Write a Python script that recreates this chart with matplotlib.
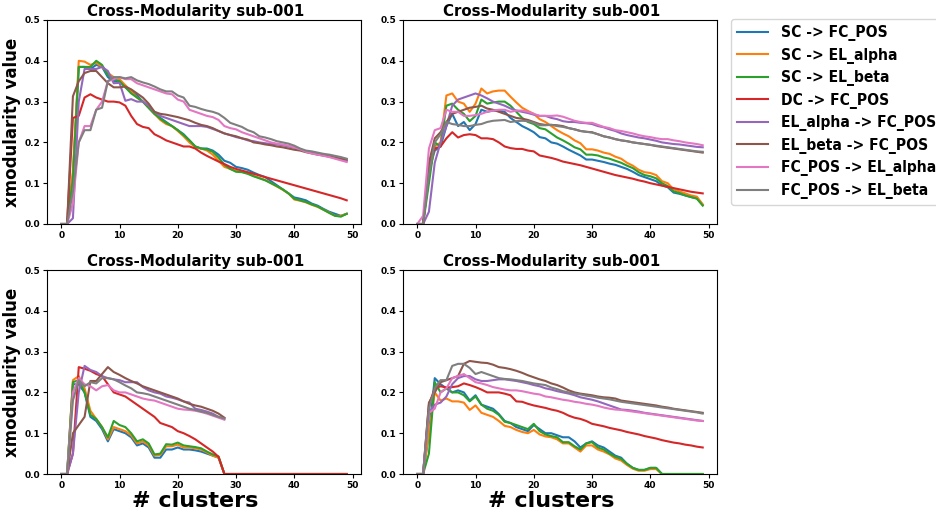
import numpy as np
import matplotlib
matplotlib.use('Agg')
import matplotlib.pyplot as plt
from matplotlib.font_manager import FontProperties

labels = ['SC -> FC_POS', 'SC -> EL_alpha', 'SC -> EL_beta', 'DC -> FC_POS',
          'EL_alpha -> FC_POS', 'EL_beta -> FC_POS', 'FC_POS -> EL_alpha', 'FC_POS -> EL_beta']
title = 'Cross-Modularity sub-001'

# top left
tl_sc_fc = [0, 0, 0.12, 0.385, 0.385, 0.38, 0.39, 0.385, 0.36, 0.35, 0.35, 0.335, 0.325, 0.315, 0.3, 0.285, 0.27, 0.26, 0.25, 0.24,
            0.23, 0.22, 0.205, 0.19, 0.185, 0.185, 0.18, 0.17, 0.155, 0.15, 0.14, 0.137, 0.133, 0.126, 0.12, 0.115, 0.105, 0.095, 0.085, 0.075,
            0.065, 0.062, 0.058, 0.05, 0.045, 0.037, 0.03, 0.025, 0.02, 0.025]
tl_sc_ea = [0, 0, 0.13, 0.4, 0.398, 0.39, 0.395, 0.385, 0.37, 0.36, 0.355, 0.34, 0.325, 0.31, 0.3, 0.285, 0.27, 0.255, 0.245, 0.24,
            0.228, 0.215, 0.2, 0.188, 0.185, 0.18, 0.17, 0.155, 0.14, 0.135, 0.13, 0.128, 0.124, 0.118, 0.113, 0.108, 0.1, 0.092, 0.084, 0.075,
            0.06, 0.057, 0.053, 0.047, 0.042, 0.035, 0.028, 0.02, 0.02, 0.025]
tl_sc_eb = [0, 0, 0.11, 0.385, 0.385, 0.385, 0.4, 0.39, 0.365, 0.355, 0.35, 0.335, 0.32, 0.31, 0.3, 0.285, 0.27, 0.258, 0.248, 0.24,
            0.23, 0.218, 0.205, 0.19, 0.185, 0.183, 0.177, 0.163, 0.145, 0.135, 0.128, 0.127, 0.123, 0.117, 0.112, 0.107, 0.1, 0.093, 0.085, 0.075,
            0.062, 0.058, 0.054, 0.048, 0.043, 0.035, 0.027, 0.02, 0.018, 0.025]
tl_dc_fc = [0, 0, 0.26, 0.265, 0.31, 0.318, 0.31, 0.305, 0.3, 0.3, 0.298, 0.29, 0.265, 0.245, 0.238, 0.235, 0.22, 0.213, 0.205, 0.2,
            0.195, 0.19, 0.19, 0.185, 0.175, 0.167, 0.16, 0.153, 0.147, 0.14, 0.135, 0.131, 0.127, 0.123, 0.119, 0.115, 0.111, 0.107, 0.103, 0.099,
            0.095, 0.091, 0.087, 0.083, 0.079, 0.075, 0.071, 0.067, 0.063, 0.058]
tl_ea_fc = [0, 0, 0.014, 0.3, 0.38, 0.38, 0.38, 0.385, 0.375, 0.345, 0.346, 0.302, 0.306, 0.3, 0.3, 0.29, 0.275, 0.265, 0.26, 0.255,
            0.25, 0.245, 0.24, 0.24, 0.24, 0.238, 0.233, 0.228, 0.222, 0.218, 0.213, 0.21, 0.205, 0.203, 0.2, 0.198, 0.196, 0.195, 0.193, 0.19,
            0.187, 0.183, 0.178, 0.175, 0.172, 0.168, 0.165, 0.162, 0.158, 0.155]
tl_eb_fc = [0, 0, 0.313, 0.35, 0.37, 0.375, 0.375, 0.36, 0.345, 0.335, 0.335, 0.337, 0.33, 0.32, 0.31, 0.295, 0.275, 0.27, 0.268, 0.265,
            0.262, 0.258, 0.254, 0.248, 0.243, 0.24, 0.235, 0.228, 0.222, 0.218, 0.215, 0.21, 0.207, 0.2, 0.198, 0.195, 0.193, 0.19, 0.188, 0.185,
            0.182, 0.18, 0.176, 0.173, 0.17, 0.168, 0.166, 0.163, 0.16, 0.158]
tl_fc_ea = [0, 0, 0.05, 0.2, 0.24, 0.24, 0.28, 0.3, 0.35, 0.355, 0.36, 0.355, 0.355, 0.345, 0.34, 0.335, 0.33, 0.325, 0.32, 0.318,
            0.305, 0.3, 0.28, 0.275, 0.27, 0.265, 0.262, 0.255, 0.24, 0.235, 0.232, 0.225, 0.22, 0.215, 0.21, 0.205, 0.2, 0.197, 0.195, 0.192,
            0.188, 0.183, 0.177, 0.173, 0.17, 0.167, 0.164, 0.16, 0.156, 0.152]
tl_fc_eb = [0, 0, 0.08, 0.2, 0.23, 0.23, 0.28, 0.285, 0.35, 0.36, 0.36, 0.357, 0.36, 0.352, 0.347, 0.343, 0.337, 0.33, 0.325, 0.325,
            0.315, 0.31, 0.29, 0.287, 0.282, 0.278, 0.275, 0.27, 0.26, 0.248, 0.243, 0.238, 0.23, 0.225, 0.215, 0.212, 0.208, 0.203, 0.2, 0.197,
            0.192, 0.185, 0.18, 0.178, 0.175, 0.172, 0.17, 0.167, 0.164, 0.16]

# top right
tr_sc_fc = [0, 0, 0.13, 0.18, 0.19, 0.24, 0.27, 0.24, 0.25, 0.23, 0.245, 0.28, 0.275, 0.278, 0.278, 0.275, 0.26, 0.25, 0.24, 0.233,
            0.225, 0.213, 0.21, 0.2, 0.197, 0.19, 0.182, 0.175, 0.168, 0.158, 0.158, 0.155, 0.152, 0.148, 0.145, 0.14, 0.135, 0.128, 0.12, 0.115,
            0.11, 0.105, 0.095, 0.09, 0.077, 0.074, 0.07, 0.066, 0.063, 0.047]
tr_sc_ea = [0, 0, 0.12, 0.19, 0.2, 0.315, 0.32, 0.3, 0.295, 0.275, 0.295, 0.332, 0.32, 0.325, 0.327, 0.327, 0.312, 0.298, 0.285, 0.277,
            0.27, 0.257, 0.25, 0.24, 0.23, 0.222, 0.215, 0.205, 0.198, 0.183, 0.183, 0.18, 0.175, 0.172, 0.165, 0.16, 0.15, 0.143, 0.133, 0.127,
            0.125, 0.12, 0.105, 0.1, 0.085, 0.08, 0.075, 0.07, 0.067, 0.048]
tr_sc_eb = [0, 0, 0.1, 0.2, 0.19, 0.29, 0.295, 0.28, 0.27, 0.252, 0.265, 0.305, 0.295, 0.298, 0.3, 0.3, 0.29, 0.275, 0.26, 0.25,
            0.245, 0.235, 0.232, 0.222, 0.212, 0.205, 0.197, 0.188, 0.183, 0.17, 0.17, 0.168, 0.163, 0.16, 0.155, 0.15, 0.143, 0.137, 0.127, 0.12,
            0.117, 0.112, 0.1, 0.093, 0.08, 0.076, 0.07, 0.066, 0.062, 0.045]
tr_dc_fc = [0, 0, 0.15, 0.185, 0.19, 0.21, 0.225, 0.212, 0.218, 0.22, 0.218, 0.21, 0.21, 0.208, 0.2, 0.19, 0.186, 0.184, 0.184, 0.18,
            0.178, 0.168, 0.165, 0.162, 0.158, 0.153, 0.15, 0.147, 0.144, 0.14, 0.136, 0.132, 0.128, 0.124, 0.12, 0.117, 0.114, 0.111, 0.107, 0.104,
            0.1, 0.097, 0.094, 0.091, 0.088, 0.085, 0.082, 0.079, 0.077, 0.075]
tr_ea_fc = [0, 0, 0.03, 0.15, 0.2, 0.24, 0.29, 0.305, 0.31, 0.315, 0.32, 0.315, 0.308, 0.3, 0.295, 0.29, 0.283, 0.278, 0.275, 0.272,
            0.268, 0.265, 0.265, 0.26, 0.257, 0.252, 0.25, 0.25, 0.248, 0.247, 0.245, 0.24, 0.237, 0.232, 0.228, 0.222, 0.218, 0.215, 0.212, 0.21,
            0.207, 0.204, 0.2, 0.198, 0.196, 0.195, 0.193, 0.191, 0.189, 0.188]
tr_eb_fc = [0, 0, 0.15, 0.21, 0.225, 0.25, 0.27, 0.275, 0.28, 0.285, 0.287, 0.29, 0.283, 0.28, 0.275, 0.27, 0.265, 0.26, 0.258, 0.255,
            0.25, 0.245, 0.243, 0.243, 0.242, 0.24, 0.235, 0.232, 0.228, 0.226, 0.225, 0.22, 0.215, 0.212, 0.208, 0.205, 0.203, 0.2, 0.198, 0.196,
            0.194, 0.191, 0.189, 0.187, 0.185, 0.183, 0.181, 0.179, 0.177, 0.175]
tr_fc_ea = [0, 0.02, 0.185, 0.23, 0.235, 0.28, 0.275, 0.275, 0.265, 0.265, 0.267, 0.27, 0.275, 0.278, 0.28, 0.28, 0.275, 0.278, 0.278, 0.275,
            0.27, 0.265, 0.265, 0.265, 0.266, 0.263, 0.258, 0.253, 0.25, 0.248, 0.248, 0.243, 0.238, 0.235, 0.23, 0.228, 0.225, 0.222, 0.218, 0.215,
            0.213, 0.21, 0.208, 0.208, 0.205, 0.203, 0.2, 0.198, 0.196, 0.193]
tr_fc_eb = [0, 0, 0.12, 0.2, 0.22, 0.25, 0.245, 0.243, 0.24, 0.24, 0.243, 0.245, 0.25, 0.253, 0.254, 0.255, 0.25, 0.252, 0.253, 0.252,
            0.248, 0.242, 0.242, 0.243, 0.24, 0.238, 0.235, 0.232, 0.228, 0.226, 0.224, 0.22, 0.215, 0.212, 0.208, 0.205, 0.203, 0.2, 0.198, 0.196,
            0.194, 0.192, 0.19, 0.188, 0.186, 0.184, 0.182, 0.18, 0.178, 0.177]

# bottom left (some series stop at 28 clusters)
bl_sc_fc = [0, 0, 0.22, 0.22, 0.2, 0.14, 0.13, 0.11, 0.08, 0.11, 0.105, 0.1, 0.09, 0.07, 0.075, 0.065, 0.04, 0.04, 0.06, 0.06,
            0.065, 0.06, 0.06, 0.058, 0.055, 0.05, 0.045, 0.04] + [0] * 22
bl_sc_ea = [0, 0, 0.23, 0.24, 0.21, 0.155, 0.135, 0.115, 0.085, 0.115, 0.11, 0.105, 0.095, 0.075, 0.08, 0.07, 0.045, 0.047, 0.068, 0.068,
            0.072, 0.065, 0.065, 0.063, 0.06, 0.053, 0.045, 0.04] + [0] * 22
bl_sc_eb = [0, 0, 0.225, 0.23, 0.2, 0.145, 0.135, 0.115, 0.09, 0.13, 0.12, 0.115, 0.1, 0.08, 0.085, 0.075, 0.048, 0.05, 0.073, 0.072,
            0.077, 0.07, 0.068, 0.066, 0.063, 0.055, 0.048, 0.043] + [0] * 22
bl_dc_fc = [0, 0, 0.05, 0.262, 0.258, 0.253, 0.245, 0.24, 0.22, 0.2, 0.195, 0.19, 0.18, 0.17, 0.16, 0.15, 0.14, 0.125, 0.12, 0.115,
            0.105, 0.1, 0.093, 0.085, 0.075, 0.065, 0.055, 0.042] + [0] * 22
bl_ea_fc = [0, 0, 0.05, 0.2, 0.265, 0.255, 0.25, 0.24, 0.235, 0.232, 0.23, 0.225, 0.225, 0.225, 0.213, 0.205, 0.2, 0.197, 0.19, 0.187,
            0.183, 0.178, 0.175, 0.16, 0.157, 0.153, 0.148, 0.14, 0.136]
bl_eb_fc = [0, 0, 0.1, 0.12, 0.14, 0.228, 0.228, 0.245, 0.262, 0.25, 0.243, 0.235, 0.228, 0.222, 0.215, 0.21, 0.205, 0.2, 0.195, 0.19,
            0.185, 0.178, 0.172, 0.168, 0.165, 0.16, 0.155, 0.148, 0.138]
bl_fc_ea = [0, 0, 0.2, 0.235, 0.22, 0.215, 0.205, 0.215, 0.218, 0.205, 0.2, 0.2, 0.195, 0.19, 0.185, 0.182, 0.18, 0.175, 0.17, 0.165,
            0.16, 0.158, 0.157, 0.155, 0.152, 0.148, 0.143, 0.138, 0.133]
bl_fc_eb = [0, 0, 0.18, 0.23, 0.215, 0.225, 0.222, 0.235, 0.235, 0.232, 0.225, 0.217, 0.21, 0.2, 0.198, 0.195, 0.19, 0.185, 0.18, 0.175,
            0.17, 0.165, 0.16, 0.157, 0.153, 0.15, 0.145, 0.14, 0.136]

# bottom right
br_sc_fc = [0, 0, 0.1, 0.235, 0.22, 0.21, 0.2, 0.205, 0.2, 0.18, 0.193, 0.17, 0.165, 0.16, 0.147, 0.13, 0.125, 0.115, 0.11, 0.105,
            0.12, 0.11, 0.1, 0.1, 0.095, 0.09, 0.09, 0.08, 0.065, 0.075, 0.08, 0.07, 0.065, 0.055, 0.045, 0.04, 0.025, 0.015, 0.01, 0.01,
            0.015, 0.015, 0, 0, 0, 0, 0, 0, 0, 0]
br_sc_ea = [0, 0, 0.1, 0.2, 0.18, 0.185, 0.178, 0.178, 0.175, 0.157, 0.168, 0.15, 0.145, 0.14, 0.13, 0.118, 0.115, 0.108, 0.103, 0.1,
            0.108, 0.097, 0.092, 0.09, 0.085, 0.075, 0.075, 0.065, 0.055, 0.07, 0.07, 0.06, 0.055, 0.048, 0.038, 0.033, 0.022, 0.013, 0.008, 0.008,
            0.012, 0.012, 0, 0, 0, 0, 0, 0, 0, 0]
br_sc_eb = [0, 0, 0.05, 0.225, 0.2, 0.21, 0.2, 0.2, 0.193, 0.178, 0.19, 0.17, 0.16, 0.155, 0.145, 0.128, 0.125, 0.12, 0.115, 0.11,
            0.123, 0.105, 0.097, 0.093, 0.09, 0.078, 0.078, 0.068, 0.06, 0.075, 0.078, 0.065, 0.06, 0.05, 0.042, 0.037, 0.025, 0.015, 0.01, 0.01,
            0.015, 0.015, 0, 0, 0, 0, 0, 0, 0, 0]
br_dc_fc = [0, 0, 0.17, 0.21, 0.215, 0.212, 0.213, 0.215, 0.222, 0.218, 0.213, 0.207, 0.2, 0.2, 0.2, 0.197, 0.193, 0.178, 0.177, 0.172,
            0.168, 0.165, 0.162, 0.158, 0.155, 0.15, 0.143, 0.138, 0.135, 0.13, 0.123, 0.12, 0.117, 0.113, 0.11, 0.107, 0.103, 0.1, 0.097, 0.093,
            0.09, 0.087, 0.083, 0.08, 0.077, 0.075, 0.072, 0.07, 0.067, 0.065]
br_ea_fc = [0, 0, 0.15, 0.17, 0.175, 0.19, 0.22, 0.235, 0.24, 0.24, 0.232, 0.228, 0.228, 0.23, 0.232, 0.232, 0.23, 0.228, 0.225, 0.222,
            0.218, 0.215, 0.21, 0.207, 0.203, 0.2, 0.197, 0.193, 0.188, 0.185, 0.182, 0.178, 0.173, 0.168, 0.163, 0.158, 0.157, 0.155, 0.153, 0.15,
            0.148, 0.146, 0.144, 0.142, 0.14, 0.138, 0.136, 0.134, 0.132, 0.13]
br_eb_fc = [0, 0, 0.175, 0.2, 0.225, 0.23, 0.235, 0.24, 0.27, 0.277, 0.275, 0.273, 0.272, 0.268, 0.262, 0.26, 0.257, 0.253, 0.248, 0.242,
            0.237, 0.232, 0.228, 0.222, 0.218, 0.212, 0.205, 0.2, 0.197, 0.195, 0.193, 0.19, 0.188, 0.187, 0.185, 0.18, 0.178, 0.176, 0.174, 0.172,
            0.17, 0.168, 0.165, 0.163, 0.16, 0.158, 0.156, 0.154, 0.152, 0.15]
br_fc_ea = [0, 0, 0.15, 0.16, 0.2, 0.21, 0.235, 0.24, 0.245, 0.235, 0.225, 0.222, 0.218, 0.213, 0.21, 0.207, 0.205, 0.205, 0.203, 0.2,
            0.197, 0.195, 0.19, 0.188, 0.185, 0.182, 0.18, 0.177, 0.175, 0.172, 0.17, 0.167, 0.163, 0.16, 0.158, 0.157, 0.155, 0.153, 0.151, 0.149,
            0.147, 0.145, 0.143, 0.141, 0.139, 0.137, 0.135, 0.133, 0.131, 0.13]
br_fc_eb = [0, 0, 0.16, 0.21, 0.23, 0.23, 0.265, 0.27, 0.27, 0.26, 0.245, 0.25, 0.245, 0.24, 0.235, 0.233, 0.232, 0.23, 0.228, 0.225,
            0.222, 0.22, 0.218, 0.212, 0.208, 0.203, 0.2, 0.197, 0.195, 0.192, 0.19, 0.187, 0.185, 0.183, 0.18, 0.177, 0.175, 0.173, 0.171, 0.169,
            0.167, 0.165, 0.163, 0.161, 0.159, 0.157, 0.155, 0.153, 0.151, 0.148]

panels = [
    [tl_sc_fc, tl_sc_ea, tl_sc_eb, tl_dc_fc, tl_ea_fc, tl_eb_fc, tl_fc_ea, tl_fc_eb],
    [tr_sc_fc, tr_sc_ea, tr_sc_eb, tr_dc_fc, tr_ea_fc, tr_eb_fc, tr_fc_ea, tr_fc_eb],
    [bl_sc_fc, bl_sc_ea, bl_sc_eb, bl_dc_fc, bl_ea_fc, bl_eb_fc, bl_fc_ea, bl_fc_eb],
    [br_sc_fc, br_sc_ea, br_sc_eb, br_dc_fc, br_ea_fc, br_eb_fc, br_fc_ea, br_fc_eb],
]

W, H = 936, 519
fig = plt.figure(figsize=(W / 100, H / 100), dpi=100)

# axes boxes in pixels: left, top, right, bottom
boxes = [(47, 20, 361, 224), (403, 20, 717, 224), (47, 270, 361, 474), (403, 270, 717, 474)]

axs = []
for i, (l, t, r, b) in enumerate(boxes):
    ax = fig.add_axes([l / W, 1 - b / H, (r - l) / W, (b - t) / H])
    for y, lab in zip(panels[i], labels):
        ax.plot(np.arange(len(y)), y, label=lab, lw=1.5)
    ax.set_ylim(0, 0.5)
    ax.set_xlim(-2.45, 51.45)
    ax.set_xticks([0, 10, 20, 30, 40, 50])
    ax.set_yticks([0, 0.1, 0.2, 0.3, 0.4, 0.5])
    ax.tick_params(labelsize=6.5, length=3, pad=2)
    for lbl in ax.get_xticklabels() + ax.get_yticklabels():
        lbl.set_fontweight('bold')
    ax.set_title(title, fontsize=10.8, fontweight='bold', pad=3, x=0.472)
    if i in (0, 2):
        ax.set_ylabel('xmodularity value', fontsize=12, fontweight='bold', labelpad=2)
    if i in (2, 3):
        ax.set_xlabel('# clusters', fontsize=16, fontweight='bold', labelpad=1)
        ax.xaxis.label.set_x(0.472)
    axs.append(ax)

# legend text is a bit narrow in the reference
leg_font = FontProperties(family='DejaVu Sans', stretch='condensed', weight='bold', size=11.2)
handles, labs = axs[0].get_legend_handles_labels()
fig.legend(handles, labs, loc='upper left', bbox_to_anchor=(731 / W, 1 - 19 / H),
           prop=leg_font, borderaxespad=0, labelspacing=0.42)

fig.savefig('out.png', dpi=100)
